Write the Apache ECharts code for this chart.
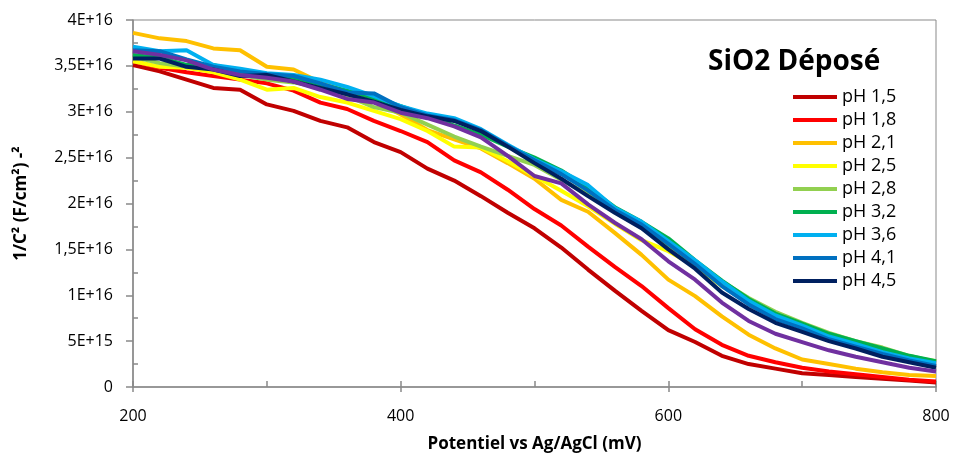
<!DOCTYPE html>
<html>
<head>
<meta charset="utf-8">
<script src="https://cdn.jsdelivr.net/npm/echarts@6/dist/echarts.min.js"></script>
<style>html,body{margin:0;padding:0;background:#fff}#c{width:959px;height:458px}</style>
</head>
<body>
<div id="c"></div>
<script>
// Potential (mV), 200..800 step 20
const potentials = [200,220,240,260,280,300,320,340,360,380,400,420,440,460,480,500,520,540,560,580,600,620,640,660,680,700,720,740,760,780,800];
// 1/C^2 values in units of 1E+16 (F/cm2)^-2
const ph15 = [3.51,3.44,3.35,3.26,3.24,3.08,3.01,2.90,2.83,2.67,2.56,2.38,2.25,2.08,1.90,1.73,1.52,1.28,1.05,0.83,0.62,0.49,0.34,0.25,0.20,0.15,0.13,0.11,0.09,0.07,0.05];
const ph18 = [3.55,3.48,3.43,3.39,3.35,3.31,3.23,3.10,3.03,2.90,2.79,2.67,2.47,2.34,2.15,1.94,1.76,1.53,1.31,1.10,0.86,0.63,0.46,0.34,0.27,0.21,0.17,0.14,0.11,0.08,0.06];
const ph21 = [3.86,3.80,3.77,3.69,3.67,3.49,3.46,3.32,3.22,3.12,2.97,2.80,2.70,2.60,2.44,2.27,2.04,1.91,1.68,1.44,1.17,0.99,0.77,0.57,0.42,0.30,0.25,0.20,0.16,0.13,0.12];
const ph25 = [3.55,3.49,3.48,3.43,3.35,3.24,3.26,3.16,3.10,3.01,2.92,2.79,2.62,2.61,2.46,2.30,2.14,1.97,1.78,1.60,1.48,1.32,1.10,0.93,0.79,0.67,0.56,0.47,0.39,0.33,0.28];
const ph28 = [3.60,3.53,3.49,3.47,3.40,3.35,3.32,3.26,3.17,3.05,2.99,2.86,2.73,2.62,2.52,2.42,2.26,2.10,1.92,1.74,1.54,1.36,1.15,0.97,0.82,0.70,0.59,0.50,0.43,0.34,0.27];
const ph32 = [3.62,3.59,3.51,3.51,3.44,3.39,3.37,3.30,3.23,3.15,3.06,2.96,2.85,2.75,2.62,2.50,2.36,2.17,1.96,1.80,1.62,1.38,1.16,0.96,0.80,0.69,0.58,0.50,0.42,0.34,0.28];
const ph36 = [3.71,3.66,3.67,3.51,3.47,3.42,3.40,3.35,3.27,3.17,3.06,2.98,2.93,2.81,2.64,2.48,2.35,2.20,1.95,1.80,1.59,1.38,1.15,0.94,0.78,0.67,0.55,0.47,0.38,0.31,0.26];
const ph41 = [3.67,3.66,3.57,3.49,3.44,3.41,3.39,3.31,3.21,3.20,3.05,2.96,2.91,2.80,2.63,2.47,2.32,2.14,1.93,1.77,1.56,1.34,1.10,0.90,0.74,0.64,0.52,0.44,0.36,0.29,0.23];
const ph45 = [3.58,3.58,3.49,3.46,3.39,3.40,3.33,3.26,3.19,3.11,3.02,2.95,2.90,2.79,2.62,2.44,2.27,2.08,1.90,1.73,1.50,1.29,1.03,0.85,0.70,0.60,0.50,0.42,0.33,0.27,0.21];
const unlisted = [3.66,3.62,3.56,3.46,3.40,3.37,3.33,3.24,3.14,3.10,2.99,2.93,2.84,2.72,2.52,2.30,2.22,1.99,1.79,1.61,1.37,1.17,0.92,0.72,0.58,0.49,0.40,0.33,0.27,0.21,0.17];

const seriesNames = ['pH 1,5','pH 1,8','pH 2,1','pH 2,5','pH 2,8','pH 3,2','pH 3,6','pH 4,1','pH 4,5'];
const seriesValues = [ph15,ph18,ph21,ph25,ph28,ph32,ph36,ph41,ph45];
const colors = ['#C00000','#FF0000','#FFC000','#FFFF00','#92D050','#00B050','#00B0F0','#0070C0','#002060'];
const unlistedColor = '#7030A0';

const yTickLabels = ['0','5E+15','1E+16','1,5E+16','2E+16','2,5E+16','3E+16','3,5E+16','4E+16'];
const xTickLabels = ['200','400','600','800'];

const FONT = 'Open Sans';
const axisGray = '#898989';

function pairs(vals){ return potentials.map((p,i)=>[p, vals[i]]); }

const series = seriesValues.map((vals,i)=>({
  name: seriesNames[i], type:'line', data: pairs(vals), showSymbol:false, symbol:'none',
  color: colors[i], lineStyle:{width:4, color: colors[i]}, itemStyle:{color:colors[i]},
  xAxisIndex:0, yAxisIndex:0, animation:false, z:2+i
}));
series.push({
  name: 'Série 10', type:'line', data: pairs(unlisted), showSymbol:false, symbol:'none',
  color: unlistedColor, lineStyle:{width:4, color: unlistedColor}, itemStyle:{color:unlistedColor},
  xAxisIndex:0, yAxisIndex:0, animation:false, z:20
});

const chart = echarts.init(document.getElementById('c'), null, {renderer:'canvas'});
chart.setOption({
  animation:false,
  backgroundColor:'#fff',
  title:{text:'SiO2 Déposé', left:708, top:48, padding:0, textStyle:{fontFamily:FONT, fontWeight:'bold', fontSize:28, color:'#000'}},
  legend:{
    data: seriesNames, orient:'vertical', left:793, top:88, padding:0, icon:'rect',
    itemWidth:44, itemHeight:4, itemGap:5,
    textStyle:{fontFamily:FONT, fontSize:18, color:'#000'},
    selectedMode:false
  },
  grid:{left:133, right:23, top:20, bottom:69, show:true, borderColor:axisGray, borderWidth:1, containLabel:false},
  xAxis:[{
    type:'value', min:200, max:800, interval:200, position:'bottom',
    axisLine:{show:true, lineStyle:{color:axisGray, width:1.5}},
    axisTick:{show:true, inside:false, length:5, lineStyle:{color:axisGray, width:1.5}},
    axisLabel:{margin:21, fontFamily:FONT, fontSize:16, color:'#000', formatter:(v)=>xTickLabels[Math.round((v-200)/200)] ?? ''},
    splitLine:{show:false},
    name:'Potentiel vs Ag/AgCl (mV)', nameLocation:'middle', nameGap:49,
    nameTextStyle:{fontFamily:FONT, fontWeight:'bold', fontSize:17, color:'#000'}
  },{
    type:'value', min:200, max:800, interval:100, position:'bottom',
    axisLine:{show:false}, axisLabel:{show:false}, splitLine:{show:false},
    axisTick:{show:true, inside:true, length:6, lineStyle:{color:axisGray, width:1.5}}
  }],
  yAxis:[{
    type:'value', min:0, max:4, interval:0.5, position:'left',
    axisLine:{show:true, lineStyle:{color:axisGray, width:1.5}},
    axisTick:{show:true, inside:false, length:7, lineStyle:{color:axisGray, width:1.5}},
    axisLabel:{margin:20, fontFamily:FONT, fontSize:16, color:'#000', formatter:(v)=>yTickLabels[Math.round(v/0.5)] ?? ''},
    splitLine:{show:false},
    name:'1/C² (F/cm²) -²', nameLocation:'middle', nameGap:103, nameRotate:90,
    nameTextStyle:{fontFamily:FONT, fontWeight:'bold', fontSize:17, color:'#000'}
  },{
    type:'value', min:0, max:4, position:'left',
    axisLine:{show:false}, axisLabel:{show:false}, splitLine:{show:false},
    axisTick:{show:true, inside:true, length:5, customValues:[0.25,0.75,1.25,1.75,2.25,2.75,3.25,3.75], lineStyle:{color:axisGray, width:1.5}}
  }],
  series: series
});
</script>
</body>
</html>
